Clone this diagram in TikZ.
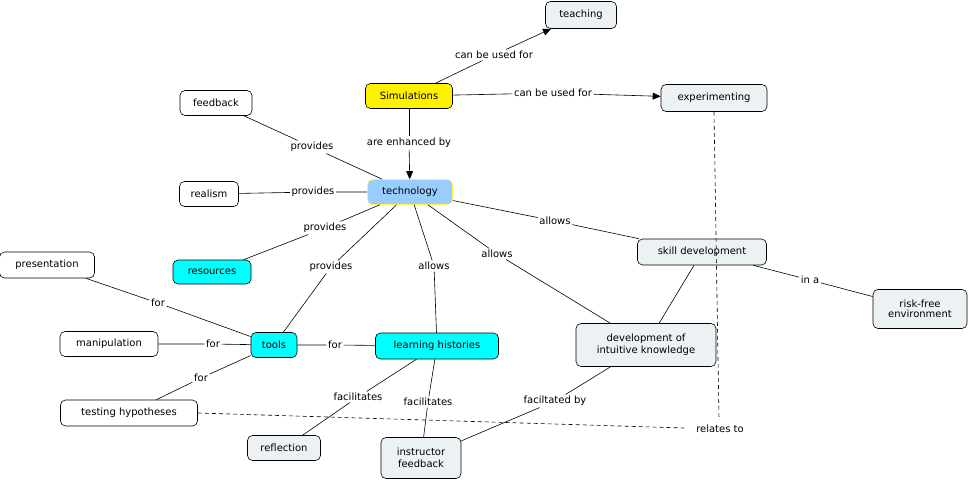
\documentclass[tikz,border=0pt]{standalone}
\usepackage{fontspec}
\setmainfont{DejaVu Sans}
\usetikzlibrary{arrows.meta}
\definecolor{pale}{HTML}{ECF2F4}
\definecolor{techblue}{HTML}{99CCFF}
\definecolor{cyanbox}{HTML}{00FFFF}
\begin{document}
\begin{tikzpicture}[x=1pt,y=-1pt,
  every node/.style={font=\fontsize{10}{12}\selectfont},
  concept/.style={draw=black,rounded corners=5pt,fill=pale,align=center,inner sep=0pt,line width=0.6pt},
  wconcept/.style={concept,fill=white},
  lbl/.style={fill=white,inner sep=1.5pt,align=center},
  link/.style={draw=black,line width=0.6pt},
  arr/.style={link,-{Triangle[length=8pt,width=7pt]}},
  dline/.style={link,dash pattern=on 4pt off 3pt}]
\useasboundingbox (0,0) rectangle (968,482);
% concepts
\node[concept,minimum width=71,minimum height=27] (teach) at (581,15) {teaching};
\node[concept,fill=yellow,minimum width=87,minimum height=25] (sim) at (409,96) {Simulations};
\node[concept,minimum width=106,minimum height=27] (exp) at (714,98) {experimenting};
\node[wconcept,minimum width=72,minimum height=25] (fb) at (216,103) {feedback};
\node[concept,fill=techblue,draw=yellow!70!white,minimum width=85,minimum height=25] (tech) at (410,192) {technology};
\node[wconcept,minimum width=59,minimum height=25] (real) at (209,194) {realism};
\node[concept,fill=cyanbox,minimum width=78,minimum height=24] (res) at (212,272) {resources};
\node[concept,minimum width=129,minimum height=26] (skill) at (702,252) {skill development};
\node[wconcept,minimum width=95,minimum height=26] (pres) at (47,265) {presentation};
\node[concept,minimum width=94,minimum height=39] (risk) at (920,309) {risk-free\\[-2pt]environment};
\node[concept,minimum width=140,minimum height=43] (dev) at (646,345) {development of\\intuitive knowledge};
\node[wconcept,minimum width=98,minimum height=25] (manip) at (109,344) {manipulation};
\node[concept,fill=cyanbox,minimum width=46,minimum height=25] (tools) at (274,345) {tools};
\node[concept,fill=cyanbox,minimum width=123,minimum height=26] (lh) at (437,346) {learning histories};
\node[wconcept,minimum width=137,minimum height=26] (test) at (129,413) {testing hypotheses};
\node[concept,minimum width=73,minimum height=25] (refl) at (284,448) {reflection};
\node[concept,minimum width=80,minimum height=41] (instr) at (421,458) {instructor\\feedback};
% dashed relates to
\coordinate (rt) at (720,429);
\begin{scope}[on background layer/.style={}]
\end{scope}
\draw[dline] (test.east) -- (684,428);
\draw[dline] (exp.south) -- (719,420);
\node[lbl] (rel) at (720,429) {relates to};
% labels
\node[lbl] (l1) at (494,55) {can be used for};
\node[lbl] (l2) at (553,93) {can be used for};
\node[lbl] (l3) at (409,143) {are enhanced by};
\node[lbl] (l4) at (312,147) {provides};
\node[lbl] (l5) at (313,192) {provides};
\node[lbl] (l6) at (325,228) {provides};
\node[lbl] (l7) at (331,267) {provides};
\node[lbl] (l8) at (434,266) {allows};
\node[lbl] (l9) at (497,254) {allows};
\node[lbl] (l10) at (555,221) {allows};
\node[lbl] (l11) at (810,280) {in a};
\node[lbl] (l12) at (158,303) {for};
\node[lbl] (l13) at (213,344) {for};
\node[lbl] (l14) at (201,378) {for};
\node[lbl] (l15) at (335,345) {for};
\node[lbl] (l16) at (358,397) {facilitates};
\node[lbl] (l17) at (428,402) {facilitates};
\node[lbl] (l18) at (555,401) {faciltated by};
% links
\draw[link] (sim) -- (l1); \draw[arr] (l1) -- (teach);
\draw[link] (sim) -- (l2); \draw[arr] (l2) -- (exp);
\draw[link] (sim) -- (l3); \draw[arr] (l3) -- (tech);
\draw[link] (fb) -- (l4) -- (tech);
\draw[link] (real) -- (l5) -- (tech);
\draw[link] (res) -- (l6) -- (tech);
\draw[link] (tools) -- (l7) -- (tech);
\draw[link] (lh) -- (l8) -- (tech);
\draw[link] (dev) -- (l9) -- (tech);
\draw[link] (skill) -- (l10) -- (tech);
\draw[link] (skill) -- (l11) -- (risk);
\draw[link] (skill) -- (dev);
\draw[link] (pres) -- (l12) -- (tools);
\draw[link] (manip) -- (l13) -- (tools);
\draw[link] (test) -- (l14) -- (tools);
\draw[link] (tools) -- (l15) -- (lh);
\draw[link] (lh) -- (l16) -- (refl);
\draw[link] (lh) -- (l17) -- (instr);
\draw[link] (dev) -- (l18) -- (instr);
\end{tikzpicture}
\end{document}
